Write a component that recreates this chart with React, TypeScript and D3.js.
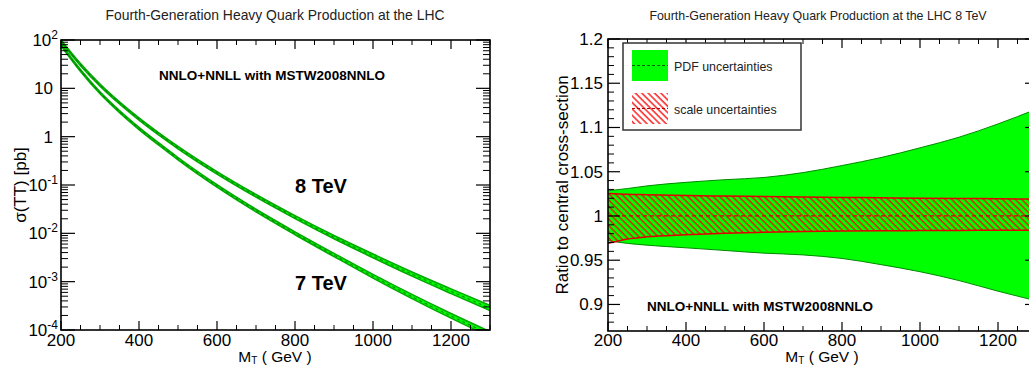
import React from 'react';
import * as d3 from 'd3';

// ---------- data ----------
const masses = [200, 250, 300, 350, 400, 450, 500, 600, 700, 800, 900, 1000, 1100, 1200, 1300];
const sigma8TeV = [95.5, 31, 11.7, 5.0, 2.32, 1.15, 0.594, 0.178, 0.0596, 0.0216, 0.0083, 0.0034, 0.00143, 0.00063, 0.000282];
const sigma7TeV = [79, 23.4, 8.1, 3.3, 1.48, 0.71, 0.35, 0.0955, 0.0295, 0.01, 0.00355, 0.00129, 0.00049, 0.000195, 0.0000813];
const relErrUp = [0.05, 0.05, 0.05, 0.052, 0.054, 0.056, 0.058, 0.062, 0.068, 0.075, 0.085, 0.097, 0.11, 0.125, 0.14];
const relErrDown = [0.05, 0.05, 0.05, 0.05, 0.052, 0.054, 0.055, 0.058, 0.062, 0.066, 0.07, 0.08, 0.09, 0.1, 0.11];

const ratioMasses = [200, 250, 300, 400, 500, 600, 700, 800, 900, 1000, 1100, 1200, 1300];
const pdfUp = [1.0285, 1.031, 1.034, 1.038, 1.041, 1.0435, 1.049, 1.057, 1.066, 1.077, 1.089, 1.104, 1.121];
const pdfDown = [0.972, 0.969, 0.967, 0.964, 0.961, 0.958, 0.956, 0.952, 0.945, 0.937, 0.927, 0.915, 0.904];
const scaleUp = [1.0255, 1.0245, 1.024, 1.023, 1.0225, 1.022, 1.0215, 1.021, 1.0205, 1.02, 1.0197, 1.0195, 1.019];
const scaleDown = [0.969, 0.974, 0.9764, 0.9787, 0.9805, 0.9816, 0.9825, 0.983, 0.9833, 0.9835, 0.9837, 0.9838, 0.984];

const xTickValues = [200, 400, 600, 800, 1000, 1200];
const logTickExps = [2, 1, 0, -1, -2, -3, -4];
const ratioTicks = [0.9, 0.95, 1, 1.05, 1.1, 1.15, 1.2];
const ratioTickLabels = ['0.9', '0.95', '1', '1.05', '1.1', '1.15', '1.2'];

const leftTitle = 'Fourth-Generation Heavy Quark Production at the LHC';
const rightTitle = 'Fourth-Generation Heavy Quark Production at the LHC 8 TeV';
const pdfLabel = 'NNLO+NNLL with MSTW2008NNLO';

const FONT = 'Liberation Sans, Arial, Helvetica, sans-serif';

// ---------- scales ----------
const xL = d3.scaleLinear().domain([200, 1300]).range([61, 490]);
const yL = d3.scaleLog().domain([1e-4, 1e2]).range([330, 40]);
const xR = d3.scaleLinear().domain([200, 1300]).range([608, 1037]);
const yR = d3.scaleLinear().domain([0.87, 1.2]).range([331, 39]);

function Band({ sig }: { sig: number[] }) {
  const pts = masses.map((m, i) => ({ m, c: sig[i], u: sig[i] * (1 + relErrUp[i]), d: sig[i] * (1 - relErrDown[i]) }));
  const area = d3.area<any>().x(p => xL(p.m)).y0(p => yL(p.d)).y1(p => yL(p.u)).curve(d3.curveMonotoneX);
  const lu = d3.line<any>().x(p => xL(p.m)).y(p => yL(p.u)).curve(d3.curveMonotoneX);
  const ld = d3.line<any>().x(p => xL(p.m)).y(p => yL(p.d)).curve(d3.curveMonotoneX);
  const lc = d3.line<any>().x(p => xL(p.m)).y(p => yL(p.c)).curve(d3.curveMonotoneX);
  return (
    <g clipPath="url(#clipL)">
      <path d={area(pts) || ''} fill="#00ff00" stroke="none" />
      <path d={lu(pts) || ''} fill="none" stroke="#00a800" strokeWidth={1.5} />
      <path d={ld(pts) || ''} fill="none" stroke="#00a800" strokeWidth={1.5} />
      <path d={lc(pts) || ''} fill="none" stroke="#007a00" strokeWidth={1} strokeDasharray="3,3" />
    </g>
  );
}

function AxisTitle({ cx }: { cx: number }) {
  return (
    <text x={cx} y={362} fontSize={15.5} textAnchor="middle" fontFamily={FONT}>
      M<tspan dy={2} fontSize={10}>T</tspan><tspan dy={-2}> ( GeV )</tspan>
    </text>
  );
}

function LeftPanel() {
  const x0 = 61, x1 = 490, y0 = 40, y1 = 330;
  const minorX = d3.range(200, 1301, 50).filter(v => v % 200 !== 0);
  const minorY: number[] = [];
  for (let e = -4; e < 2; e++) for (let k = 2; k <= 9; k++) minorY.push(k * Math.pow(10, e));
  return (
    <g>
      <text x={275} y={20} fontSize={13.9} textAnchor="middle" fontFamily={FONT} fill="#222">{leftTitle}</text>
      <Band sig={sigma7TeV} />
      <Band sig={sigma8TeV} />
      {xTickValues.map(v => (
        <g key={'xm' + v}>
          <line x1={xL(v)} x2={xL(v)} y1={y1} y2={y1 - 9} stroke="#000" strokeWidth={1.2} />
          <line x1={xL(v)} x2={xL(v)} y1={y0} y2={y0 + 9} stroke="#000" strokeWidth={1.2} />
          <text x={xL(v)} y={346} fontSize={17} textAnchor="middle" fontFamily={FONT}>{v}</text>
        </g>
      ))}
      {minorX.map(v => (
        <g key={'xn' + v}>
          <line x1={xL(v)} x2={xL(v)} y1={y1} y2={y1 - 5} stroke="#000" strokeWidth={1} />
          <line x1={xL(v)} x2={xL(v)} y1={y0} y2={y0 + 5} stroke="#000" strokeWidth={1} />
        </g>
      ))}
      {logTickExps.map(e => {
        const y = yL(Math.pow(10, e));
        let label: React.ReactNode;
        if (e === 1) label = <text x={53} y={y + 6} fontSize={17} textAnchor="end" fontFamily={FONT}>10</text>;
        else if (e === 0) label = <text x={53} y={y + 6} fontSize={17} textAnchor="end" fontFamily={FONT}>1</text>;
        else label = (
          <text x={58} y={y + 6} fontSize={17} textAnchor="end" fontFamily={FONT}>
            10<tspan dy={-7} fontSize={12}>{String(e)}</tspan>
          </text>
        );
        return (
          <g key={'ym' + e}>
            <line x1={x0} x2={x0 + 14} y1={y} y2={y} stroke="#000" strokeWidth={1.2} />
            <line x1={x1} x2={x1 - 14} y1={y} y2={y} stroke="#000" strokeWidth={1.2} />
            {label}
          </g>
        );
      })}
      {minorY.map((v, i) => (
        <g key={'yn' + i}>
          <line x1={x0} x2={x0 + 7} y1={yL(v)} y2={yL(v)} stroke="#000" strokeWidth={1} />
          <line x1={x1} x2={x1 - 7} y1={yL(v)} y2={yL(v)} stroke="#000" strokeWidth={1} />
        </g>
      ))}
      <rect x={x0} y={y0} width={x1 - x0} height={y1 - y0} fill="none" stroke="#000" strokeWidth={1.6} />
      <text transform="translate(26,185) rotate(-90)" fontSize={17} textAnchor="middle" fontFamily={FONT}>σ(TT) [pb]</text>
      <AxisTitle cx={275} />
      <text x={159} y={80} fontSize={13.5} fontWeight="bold" fontFamily={FONT}>{pdfLabel}</text>
      <text x={295} y={193} fontSize={20} fontWeight="bold" fontFamily={FONT}>8 TeV</text>
      <text x={295} y={290} fontSize={20} fontWeight="bold" fontFamily={FONT}>7 TeV</text>
    </g>
  );
}

function RightPanel() {
  const x0 = 608, x1 = 1037, y0 = 39, y1 = 331;
  const minorX = d3.range(200, 1301, 50).filter(v => v % 200 !== 0);
  const minorY = d3.range(88, 121, 1).map(v => v / 100).filter(v => Math.abs(v * 20 - Math.round(v * 20)) > 1e-6);
  const pts = ratioMasses.map((m, i) => ({ m, pu: pdfUp[i], pd: pdfDown[i], su: scaleUp[i], sd: scaleDown[i] }));
  const pdfArea = d3.area<any>().x(p => xR(p.m)).y0(p => yR(p.pd)).y1(p => yR(p.pu)).curve(d3.curveMonotoneX);
  const scArea = d3.area<any>().x(p => xR(p.m)).y0(p => yR(p.sd)).y1(p => yR(p.su)).curve(d3.curveMonotoneX);
  const ln = (key: string) => d3.line<any>().x(p => xR(p.m)).y(p => yR(p[key])).curve(d3.curveMonotoneX)(pts) || '';
  return (
    <g>
      <text x={818} y={20} fontSize={12.4} textAnchor="middle" fontFamily={FONT} fill="#222">{rightTitle}</text>
      <g clipPath="url(#clipR)">
        <path d={pdfArea(pts) || ''} fill="#00ff00" />
        <path d={ln('pu')} fill="none" stroke="#008a00" strokeWidth={1} />
        <path d={ln('pd')} fill="none" stroke="#008a00" strokeWidth={1} />
        <path d={scArea(pts) || ''} fill="url(#hatch)" />
        <path d={ln('su')} fill="none" stroke="#e00000" strokeWidth={1.5} />
        <path d={ln('sd')} fill="none" stroke="#e00000" strokeWidth={1.5} />
        <line x1={xR(200)} x2={xR(1300)} y1={yR(1)} y2={yR(1)} stroke="#d00000" strokeWidth={1.2} strokeDasharray="4,3" />
      </g>
      {xTickValues.map(v => (
        <g key={'xm' + v}>
          <line x1={xR(v)} x2={xR(v)} y1={y1} y2={y1 - 9} stroke="#000" strokeWidth={1.2} />
          <line x1={xR(v)} x2={xR(v)} y1={y0} y2={y0 + 9} stroke="#000" strokeWidth={1.2} />
          <text x={xR(v)} y={346} fontSize={17} textAnchor="middle" fontFamily={FONT}>{v}</text>
        </g>
      ))}
      {minorX.map(v => (
        <g key={'xn' + v}>
          <line x1={xR(v)} x2={xR(v)} y1={y1} y2={y1 - 5} stroke="#000" strokeWidth={1} />
          <line x1={xR(v)} x2={xR(v)} y1={y0} y2={y0 + 5} stroke="#000" strokeWidth={1} />
        </g>
      ))}
      {ratioTicks.map((v, i) => (
        <g key={'ym' + v}>
          <line x1={x0} x2={x0 + 12} y1={yR(v)} y2={yR(v)} stroke="#000" strokeWidth={1.2} />
          <line x1={x1} x2={x1 - 12} y1={yR(v)} y2={yR(v)} stroke="#000" strokeWidth={1.2} />
          <text x={603} y={yR(v) + 6} fontSize={17} textAnchor="end" fontFamily={FONT}>{ratioTickLabels[i]}</text>
        </g>
      ))}
      {minorY.map(v => (
        <g key={'yn' + v}>
          <line x1={x0} x2={x0 + 6} y1={yR(v)} y2={yR(v)} stroke="#000" strokeWidth={1} />
          <line x1={x1} x2={x1 - 6} y1={yR(v)} y2={yR(v)} stroke="#000" strokeWidth={1} />
        </g>
      ))}
      <rect x={x0} y={y0} width={x1 - x0} height={y1 - y0} fill="none" stroke="#000" strokeWidth={1.6} />
      {/* legend */}
      <rect x={623} y={43} width={178} height={87} fill="#fff" stroke="#333" strokeWidth={1.5} />
      <rect x={632} y={50} width={36} height={31} fill="#00ff00" />
      <line x1={632} x2={668} y1={65.5} y2={65.5} stroke="#006000" strokeWidth={1} strokeDasharray="3,2" />
      <text x={674} y={71} fontSize={12.4} fontFamily={FONT} fill="#222">PDF uncertainties</text>
      <rect x={632} y={93} width={36} height={31} fill="url(#hatch)" />
      <line x1={632} x2={668} y1={108.5} y2={108.5} stroke="#b00000" strokeWidth={1} strokeDasharray="3,2" />
      <text x={674} y={114} fontSize={12.4} fontFamily={FONT} fill="#222">scale uncertainties</text>
      <text transform="translate(568,185) rotate(-90)" fontSize={17} textAnchor="middle" fontFamily={FONT}>Ratio to central cross-section</text>
      <AxisTitle cx={822} />
      <text x={647} y={311} fontSize={13.5} fontWeight="bold" fontFamily={FONT}>{pdfLabel}</text>
    </g>
  );
}

export default function App() {
  return (
    <svg width={1029} height={367} style={{ position: 'absolute', left: 0, top: 0, background: '#fff' }}>
      <defs>
        <clipPath id="clipL"><rect x={61} y={40} width={429} height={290} /></clipPath>
        <clipPath id="clipR"><rect x={608} y={39} width={429} height={292} /></clipPath>
        <pattern id="hatch" patternUnits="userSpaceOnUse" width={4.5} height={4.5} patternTransform="rotate(-45)">
          <line x1={1} x2={1} y1={0} y2={4.5} stroke="#ff0000" strokeWidth={1.3} />
        </pattern>
      </defs>
      <rect x={0} y={0} width={1029} height={367} fill="#fff" />
      <LeftPanel />
      <RightPanel />
    </svg>
  );
}
